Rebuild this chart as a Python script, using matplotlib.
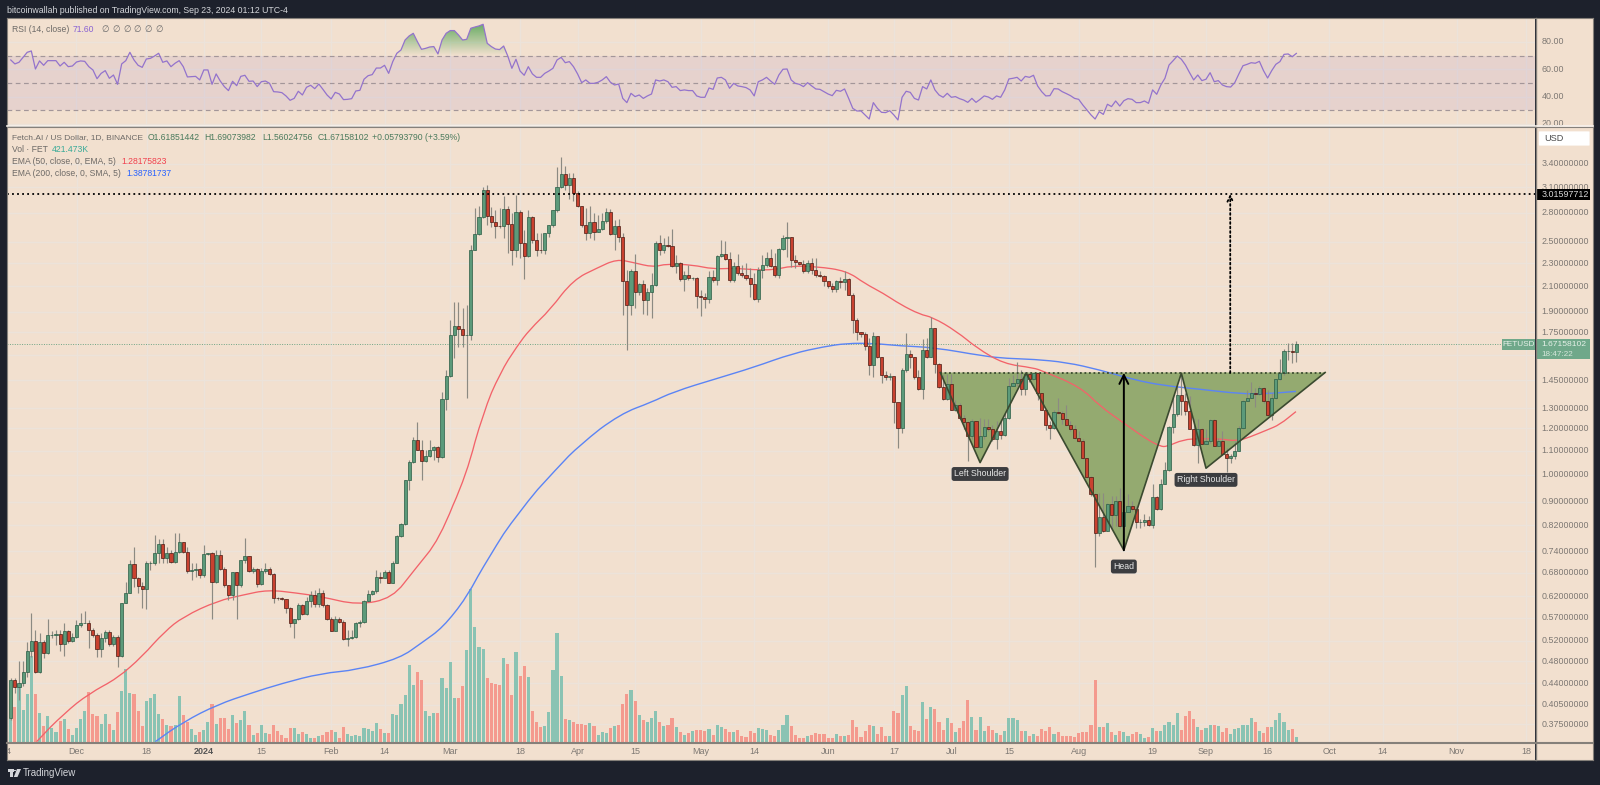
import matplotlib as mpl

mpl.use("Agg")
import matplotlib.pyplot as plt
import numpy as np
from matplotlib.colors import LinearSegmentedColormap
from matplotlib.patches import Circle, FancyBboxPatch, PathPatch, Polygon, Rectangle
from matplotlib.path import Path

plt.rcParams["font.family"] = ["Liberation Sans", "DejaVu Sans"]

# candles are daily, first one is day -16, day 0 = 1 Dec 2023
first_day = -16
first_open = 0.384
closes = [
    .446, .434, .440, .461, .499, .521, .461, .517, .496, .532, .533, .535, .513, .540, .521, .528,
    .553, .559, .559, .542, .533, .503, .526, .538, .513, .529,
    .491, .603, .628, .703, .667, .646, .638, .708, .708, .734,
    .763, .722, .734, .709, .739, .768, .739, .684, .688, .691,
    .673, .732, .734, .655, .729, .691, .648, .622, .682, .648,
    .715, .727, .685, .690, .650, .685, .690, .677, .617, .615,
    .613, .593, .558, .568, .599, .578, .609, .623, .601, .628,
    .599, .566, .540, .568, .561, .524, .526, .528, .559, .561,
    .608, .626, .632, .669, .667, .683, .654, .708, .787, .824,
    .980, 1.052, 1.145, 1.103, 1.056, 1.078, 1.103, 1.115, 1.074,
    1.349, 1.474, 1.731, 1.797, 1.771, 1.731, 1.736, 2.424, 2.579, 2.755, 3.07,
    2.765, 2.70, 2.665, 2.66, 2.84, 2.68, 2.42, 2.81, 2.49, 2.36,
    2.755, 2.52, 2.424, 2.42, 2.585, 2.67, 2.83, 3.10, 3.26, 3.13,
    3.21, 3.03, 2.88, 2.67, 2.585, 2.70, 2.60, 2.63, 2.71, 2.81,
    2.58, 2.665, 2.55, 2.14, 1.95, 2.227, 2.05, 2.12, 1.99, 2.05,
    2.11, 2.49, 2.42, 2.47, 2.456, 2.275, 2.30, 2.16, 2.19, 2.17,
    2.17, 2.02, 2.01, 2.00, 2.175, 2.155, 2.36, 2.38, 2.34, 2.155,
    2.27, 2.21, 2.19, 2.165, 2.12, 2.00, 2.24, 2.28, 2.35, 2.275,
    2.195, 2.43, 2.535, 2.545, 2.33, 2.305, 2.295, 2.232, 2.30, 2.235,
    2.19, 2.187, 2.14, 2.105, 2.08, 2.145, 2.135, 2.16, 2.03, 1.84,
    1.755, 1.74, 1.66, 1.54, 1.726, 1.59, 1.48, 1.47, 1.474, 1.33, 1.20,
    1.512, 1.61, 1.592, 1.47, 1.40, 1.635, 1.592, 1.778, 1.547, 1.41,
    1.348, 1.43, 1.29, 1.315, 1.25, 1.23, 1.166, 1.235, 1.117, 1.166,
    1.207, 1.195, 1.15, 1.186, 1.17, 1.25, 1.42, 1.434, 1.456, 1.40,
    1.489, 1.46, 1.49, 1.38, 1.29, 1.215, 1.20, 1.28, 1.275, 1.245,
    1.215, 1.195, 1.157, 1.14, 1.069, .992, .926, .795, .848, .803,
    .89, .853, .903, .818, .865, .884, .875, .829, .83, .838,
    .82, .915, .875, .963, 1.017, 1.207, 1.268, 1.366, 1.335, 1.287,
    1.195, 1.125, 1.195, 1.13, 1.14, 1.24, 1.12, 1.14, 1.084, 1.07,
    1.075, 1.10, 1.20, 1.336, 1.352, 1.38, 1.375, 1.408, 1.335, 1.264,
    1.352, 1.455, 1.493, 1.63, 1.63, 1.6185, 1.6716,
]
highs = [
    .449, .449, .480, .480, .518, .580, .543, .536, .522, .568, .540, .543, .543, .558, .543, .536,
    .565, .580, .584, .565, .547, .536, .536, .543, .543, .532,
    .532, .603, .657, .715, .753, .670, .657, .711, .711, .789,
    .778, .778, .753, .744, .796, .796, .768, .753, .706, .706,
    .692, .758, .734, .739, .744, .744, .697, .648, .683, .683,
    .715, .781, .727, .697, .692, .692, .706, .697, .679, .619,
    .619, .613, .595, .568, .603, .601, .619, .632, .636, .640,
    .636, .601, .572, .573, .572, .565, .543, .543, .561, .565,
    .611, .636, .636, .688, .683, .688, .688, .711, .789, .826,
    .980, 1.059, 1.162, 1.232, 1.145, 1.103, 1.145, 1.118, 1.118,
    1.386, 1.51, 1.838, 1.97, 1.97, 1.925, 1.95, 2.47, 2.853, 2.88, 3.107,
    3.127, 2.872, 2.835, 2.853, 2.996, 2.88, 2.798, 3.007, 2.835, 2.62,
    2.835, 2.768, 2.586, 2.586, 2.586, 2.672, 2.835, 3.35, 3.486, 3.37,
    3.275, 3.275, 3.05, 2.88, 2.853, 2.88, 2.798, 2.78, 2.798, 2.853,
    2.842, 2.725, 2.733, 2.586, 2.239, 2.25, 2.385, 2.124, 2.153, 2.083,
    2.21, 2.503, 2.57, 2.535, 2.56, 2.63, 2.375, 2.305, 2.225, 2.283,
    2.181, 2.181, 2.069, 2.042, 2.225, 2.239, 2.375, 2.519, 2.503, 2.406,
    2.313, 2.385, 2.283, 2.298, 2.254, 2.21, 2.268, 2.375, 2.406, 2.43,
    2.391, 2.438, 2.57, 2.707, 2.552, 2.375, 2.313, 2.329, 2.329, 2.344,
    2.344, 2.225, 2.195, 2.138, 2.124, 2.153, 2.181, 2.225, 2.167, 2.042,
    1.85, 1.755, 1.755, 1.71, 1.755, 1.722, 1.591, 1.506, 1.49, 1.471, 1.324,
    1.52, 1.745, 1.635, 1.592, 1.512, 1.705, 1.71, 1.858, 1.78, 1.551,
    1.48, 1.487, 1.487, 1.344, 1.326, 1.267, 1.235, 1.243, 1.235, 1.25,
    1.243, 1.243, 1.218, 1.235, 1.243, 1.275, 1.462, 1.48, 1.561, 1.508,
    1.50, 1.491, 1.495, 1.495, 1.373, 1.292, 1.235, 1.292, 1.351, 1.284,
    1.317, 1.235, 1.218, 1.187, 1.149, 1.069, .995, .932, .932, .932,
    .896, .92, .92, .95, .92, .926, .902, .885, .84, .856,
    .851, .963, .92, .982, 1.052, 1.21, 1.361, 1.425, 1.481, 1.379,
    1.361, 1.25, 1.243, 1.203, 1.195, 1.246, 1.246, 1.157, 1.187, 1.112,
    1.087, 1.141, 1.21, 1.344, 1.397, 1.443, 1.406, 1.415, 1.41, 1.393,
    1.379, 1.457, 1.576, 1.639, 1.678, 1.678, 1.691,
]
lows = [
    .381, .423, .412, .435, .452, .489, .458, .458, .486, .495, .527, .512, .499, .490, .515, .517,
    .527, .550, .559, .505, .529, .489, .489, .518, .509, .509,
    .470, .489, .603, .628, .644, .628, .591, .589, .688, .702,
    .706, .706, .706, .706, .706, .734, .734, .679, .661, .670,
    .665, .670, .729, .568, .653, .688, .644, .611, .611, .568,
    .644, .706, .683, .679, .644, .648, .679, .675, .603, .611,
    .611, .580, .550, .526, .565, .576, .576, .595, .595, .595,
    .595, .565, .540, .540, .558, .522, .509, .524, .527, .550,
    .559, .607, .624, .628, .653, .665, .653, .653, .706, .784,
    .820, .942, 1.046, 1.103, .980, 1.052, 1.074, 1.059, 1.052,
    1.07, 1.29, 1.471, 1.58, 1.65, 1.655, 1.35, 1.699, 2.416, 2.57, 2.743,
    2.672, 2.655, 2.535, 2.637, 2.535, 2.391, 2.283, 2.359, 2.344, 2.161,
    2.359, 2.487, 2.365, 2.391, 2.385, 2.552, 2.655, 2.816, 3.087, 3.067,
    2.957, 2.93, 2.872, 2.655, 2.519, 2.535, 2.519, 2.603, 2.62, 2.69,
    2.57, 2.416, 2.50, 1.875, 1.634, 1.875, 1.925, 2.029, 1.88, 1.875,
    1.85, 2.097, 2.375, 2.391, 2.448, 2.262, 2.21, 2.147, 2.064, 2.153,
    2.153, 1.925, 1.868, 1.925, 1.963, 2.138, 2.11, 2.359, 2.329, 2.138,
    2.138, 2.195, 2.181, 2.153, 2.016, 1.989, 1.976, 2.167, 2.268, 2.268,
    2.181, 2.167, 2.416, 2.359, 2.268, 2.254, 2.283, 2.21, 2.21, 2.204,
    2.181, 2.176, 2.097, 2.083, 2.05, 2.05, 2.083, 2.069, 2.029, 1.744,
    1.699, 1.722, 1.634, 1.48, 1.471, 1.58, 1.433, 1.452, 1.452, 1.224, 1.11,
    1.18, 1.50, 1.52, 1.46, 1.397, 1.347, 1.582, 1.588, 1.495, 1.405,
    1.344, 1.344, 1.288, 1.284, 1.243, 1.195, 1.055, 1.149, 1.115, 1.112,
    1.149, 1.187, 1.141, 1.105, 1.149, 1.164, 1.246, 1.415, 1.42, 1.366,
    1.37, 1.443, 1.453, 1.344, 1.288, 1.192, 1.152, 1.195, 1.272, 1.223,
    1.213, 1.187, 1.152, 1.137, 1.062, .988, .92, .696, .787, .799,
    .802, .807, .818, .812, .787, .862, .868, .812, .812, .818,
    .816, .81, .871, .871, .963, 1.015, 1.179, 1.262, 1.267, 1.267,
    1.195, 1.119, 1.049, 1.127, 1.127, 1.134, 1.119, 1.119, 1.079, 1.01,
    1.049, 1.062, 1.098, 1.198, 1.335, 1.352, 1.305, 1.37, 1.326, 1.259,
    1.24, 1.347, 1.453, 1.48, 1.572, 1.555, 1.56,
]
# volume pane has no scale, units are about 28k FET
volumes = [
    70, 105, 175, 95, 145, 257, 145, 87, 47, 77, 43, 30, 63, 70, 40, 20,
    43, 68, 93, 150, 85, 77, 53, 83, 53, 35,
    89, 152, 220, 147, 143, 93, 48, 122, 133, 145,
    85, 68, 50, 48, 50, 137, 82, 60, 40, 21,
    30, 35, 61, 115, 55, 73, 73, 40, 81, 58,
    65, 92, 50, 21, 28, 50, 28, 23, 50, 32,
    20, 13, 43, 43, 23, 31, 25, 13, 13, 18,
    20, 31, 35, 30, 13, 45, 25, 19, 22, 19,
    43, 40, 33, 57, 38, 27, 28, 83, 82, 115,
    142, 230, 170, 210, 187, 93, 77, 87, 88, 193,
    163, 239, 132, 132, 167, 275, 460, 345, 285, 280,
    192, 178, 174, 170, 252, 235, 142, 270, 198, 227,
    196, 93, 59, 45, 47, 89, 217, 328, 197, 70,
    65, 60, 53, 53, 50, 58, 47, 20, 30, 28,
    43, 48, 50, 115, 145, 157, 123, 80, 65, 59,
    73, 92, 61, 48, 50, 73, 44, 30, 20, 27,
    33, 36, 37, 33, 40, 21, 50, 46, 39, 30,
    30, 37, 17, 14, 33, 27, 42, 40, 35, 20,
    17, 37, 50, 80, 47, 20, 13,
    13, 19, 21, 28, 25, 25, 13, 13, 23, 19, 19, 21, 67, 44, 16, 34, 52, 47, 25, 44,
    17, 17, 92, 88, 140, 169, 48, 36, 34, 121, 69, 104, 98, 59, 36, 71, 57, 31, 41, 62,
    125, 75, 36, 75, 32, 48, 36, 27, 21, 32, 73, 73, 67, 34, 34, 18, 23, 19, 40, 34,
    44, 23, 29, 19, 19, 17, 15, 27, 29, 29, 52, 187, 46, 44, 56, 29, 21, 34, 31, 17,
    23, 29, 23, 11, 15, 42, 32, 32, 52, 60, 50, 86, 37, 79, 94, 69, 46, 36, 42, 50,
    50, 48, 29, 42, 23, 38, 42, 52, 50, 73, 59, 34, 27, 44, 44, 65, 88, 59, 36, 38, 15,
]
rsi_values = [
    66.8, 63.9, 65.1, 68.7, 72.4, 73.4, 60.2, 66.1, 62.9, 66.3, 66.3, 66.3, 62.4, 65.1, 61.9, 62.4,
    65.3, 66.1, 65.8, 61.9, 59.5, 53.1, 57.0, 59.0, 53.4, 55.8,
    49.0, 63.9, 66.3, 72.4, 66.8, 62.9, 61.4, 67.5, 68.0, 69.7,
    71.7, 65.1, 66.1, 61.9, 64.4, 66.3, 61.9, 54.4, 54.6, 54.8,
    52.2, 59.5, 59.5, 49.0, 56.6, 51.4, 47.3, 44.4, 51.2, 48.0,
    54.8, 55.6, 51.2, 51.4, 47.3, 50.9, 51.4, 49.7, 43.6, 43.4,
    42.9, 40.5, 37.3, 38.7, 43.9, 41.2, 46.8, 48.3, 45.8, 49.2,
    45.3, 41.2, 38.3, 43.1, 41.9, 37.8, 38.0, 38.5, 44.1, 44.6,
    52.7, 55.3, 56.1, 60.9, 60.9, 62.9, 57.0, 65.6, 71.7, 74.1,
    81.4, 84.4, 86.3, 80.2, 74.6, 75.3, 76.3, 76.6, 71.2, 81.4,
    86.3, 88.3, 88.3, 85.1, 81.4, 81.9, 90.0, 90.9, 91.7, 92.9,
    79.0, 76.6, 74.8, 74.4, 77.0, 69.7, 60.7, 67.3, 58.7, 55.6,
    61.9, 56.6, 54.1, 54.1, 57.0, 58.7, 60.7, 66.8,
    68.7, 64.8, 65.6, 61.9, 56.6, 50.2, 52.2, 49.7, 49.7, 50.5,
    52.2, 54.6, 50.5, 48.5, 49.2, 38.7, 35.6, 42.4, 40.0, 41.2,
    38.7, 40.5, 41.9, 52.2, 51.4, 52.2, 50.9, 46.8, 47.3, 44.4,
    44.9, 44.4, 44.4, 40.5, 39.5, 39.5, 46.3, 45.3, 53.6, 54.1,
    52.2, 46.1, 49.7, 47.8, 47.3, 46.6, 44.9, 40.5, 50.9, 52.2,
    54.1, 51.4, 49.0, 55.8, 60.0, 60.2, 52.2, 49.7, 49.0,
    47.3, 50.2, 47.8, 45.6, 45.3, 43.6, 41.9, 40.7, 44.6, 43.9,
    45.6, 38.7, 31.4, 29.5, 29.5, 26.6, 23.6, 35.6, 31.4, 28.5,
    28.3, 29.7, 26.6, 22.9, 39.5, 43.9, 43.1, 38.7, 37.5, 47.3,
    45.6, 52.2, 44.9, 41.2, 39.5, 42.4, 39.5, 40.0, 38.5, 37.5,
    35.8, 38.7, 35.8, 38.0, 40.5, 39.7, 38.0, 40.5, 39.5, 44.9,
    52.9, 53.4, 54.1, 51.4, 54.8, 54.1, 55.6, 47.8, 43.6, 40.5,
    40.7, 45.8, 45.6, 43.6, 42.2, 40.7, 38.7, 38.0, 33.9, 30.2,
    26.6, 23.6, 29.0, 27.0, 34.4, 32.7, 36.8, 33.1, 37.0, 38.5,
    38.0, 35.6, 35.6, 36.8, 35.1, 44.9, 41.7, 48.5, 53.4, 63.1,
    66.3, 69.7, 67.3, 63.1, 57.5, 52.2, 55.8, 51.7, 52.7, 57.5,
    50.9, 51.7, 48.5, 47.3, 47.0, 50.2, 56.6, 62.6, 63.6, 64.8,
    64.4, 65.8, 59.0, 53.6, 59.0, 63.6, 65.6, 70.9, 71.2, 69.2, 71.6,
]

ema50_days = [-9.7, -3, 3.1, 10, 16, 21.4, 26, 34.4, 40.5, 46.6, 53.6, 59.7, 68.3, 77, 82.3, 88.3,
              95, 99, 103.1, 107.2, 110.4, 115.3, 121, 126.7, 131.5, 135.6, 140.4, 143.7, 150,
              155, 160, 165, 170, 174, 180.2, 187.5, 192, 196.4, 200.5, 205.4, 208.3, 214.3,
              219.2, 225.7, 233, 235.4, 244.4, 249.2, 254.9, 260.6, 263.8, 265.4, 269.5, 273.5,
              278.4, 282.5, 285.7, 289.8, 293, 296.9]
ema50_vals = [.350, .391, .423, .449, .489, .539, .572, .609, .623, .636, .628, .619, .599, .615,
              .688, .773, 1.0, 1.273, 1.49, 1.655, 1.772, 1.912, 2.153, 2.254, 2.335, 2.304, 2.262,
              2.293, 2.283, 2.245, 2.254, 2.239, 2.239, 2.274, 2.268, 2.23, 2.12, 2.042, 1.955,
              1.878, 1.86, 1.757, 1.646, 1.547, 1.523, 1.502, 1.412, 1.309, 1.226, 1.149, 1.119,
              1.116, 1.149, 1.152, 1.152, 1.141, 1.16, 1.192, 1.218, 1.282]
ema200_days = [19.2, 26, 34.4, 42.3, 50, 59.7, 68.3, 78.8, 84, 89.2, 94.9, 100.5, 107.5, 117,
               122.6, 132.4, 140, 145.3, 155.9, 164.8, 174.5, 182, 187.5, 194, 200.5, 208.7,
               220.8, 226.5, 233, 241, 249.2, 257.4, 264.7, 273.5, 283.3, 289.8, 296.9]
ema200_vals = [.35, .378, .405, .423, .44, .458, .464, .486, .516, .548, .615, .725, .86, 1.026,
               1.125, 1.27, 1.33, 1.385, 1.46, 1.525, 1.612, 1.655, 1.677, 1.677, 1.66, 1.65,
               1.595, 1.58, 1.575, 1.556, 1.51, 1.453, 1.42, 1.40, 1.375, 1.375, 1.388]

pattern_days = [210.3, 220, 231.2, 255, 269, 275, 304]
pattern_prices = [1.495, 1.049, 1.491, .743, 1.491, 1.026, 1.495]
neckline = 1.493
target_price = 3.01597712
target_day = 280.9
last_close = 1.67158102

price_ticks = [3.4, 3.1, 2.8, 2.5, 2.3, 2.1, 1.9, 1.75, 1.6, 1.45, 1.3, 1.2, 1.1, 1.0, 0.9, 0.82,
               0.74, 0.68, 0.62, 0.57, 0.52, 0.48, 0.44, 0.405, 0.375]
rsi_ticks = [80, 60, 40, 20]
date_ticks = [-17, 0, 17, 31, 45, 62, 75, 91, 108, 122, 136, 152, 165, 183, 199, 213, 227, 244,
              262, 275, 290, 305, 318, 336, 353]
date_labels = ["14", "Dec", "18", "2024", "15", "Feb", "14", "Mar", "18", "Apr", "15", "May", "14",
               "Jun", "17", "Jul", "15", "Aug", "19", "Sep", "16", "Oct", "14", "Nov", "18"]

n = len(closes)
assert all(len(a) == n for a in [highs, lows, volumes, rsi_values]), (
    n, len(highs), len(lows), len(volumes), len(rsi_values))

days = first_day + np.arange(n)
closes = np.array(closes)
opens = np.r_[first_open, closes[:-1]]
highs = np.array(highs)
lows = np.array(lows)
volumes = np.array(volumes)
rsi_values = np.array(rsi_values)

BG = "#1d212c"
PANE = "#f2e0cf"
GRID = "#ece3da"
AXIS = "#85807a"
LABEL = "#7d7873"
TEXT = "#6d6a67"
GREEN = "#5c9a7a"
RED = "#c9412f"
PX_W, PX_H = 1600, 785
XLIM = (-16.92, 355.1)
PRICE_LIM = (0.3495, 3.927)
RSI_LIM = (18.5, 97.5)
VOL_TOP = 1845


def rect(x0, y0, x1, y1):
    return [x0 / PX_W, 1 - y1 / PX_H, (x1 - x0) / PX_W, (y1 - y0) / PX_H]


def put(x, y, s, color=TEXT, size=6.2, **kw):
    fig.text(x / PX_W, 1 - y / PX_H, s, color=color, fontsize=size, va="center", zorder=20, **kw)


def bare(ax):
    ax.set_xticks([])
    ax.set_yticks([])
    for s in ax.spines.values():
        s.set_visible(False)


def smooth_line(ax, xs, ys, color, lw, zorder):
    # quadratic segments through the read points, the moving averages have no corners
    xs, ys = np.array(xs), np.array(ys)
    mx, my = (xs[:-1] + xs[1:]) / 2, (ys[:-1] + ys[1:]) / 2
    verts = [(xs[0], ys[0]), (mx[0], my[0])]
    codes = [Path.MOVETO, Path.LINETO]
    for i in range(1, len(xs) - 1):
        verts += [(xs[i], ys[i]), (mx[i], my[i])]
        codes += [Path.CURVE3, Path.CURVE3]
    verts.append((xs[-1], ys[-1]))
    codes.append(Path.LINETO)
    ax.add_patch(PathPatch(Path(verts, codes), fc="none", ec=color, lw=lw, zorder=zorder))


fig = plt.figure(figsize=(PX_W / 100, PX_H / 100), dpi=100, facecolor=BG)

# rsi pane
ax_rsi = fig.add_axes(rect(7, 18, 1535, 126), facecolor=PANE)
ax_rsi.set_xlim(*XLIM)
ax_rsi.set_ylim(*RSI_LIM)
ax_rsi.set_xticks(date_ticks)
ax_rsi.set_yticks(rsi_ticks)
ax_rsi.tick_params(length=0, labelbottom=False, labelleft=False)
ax_rsi.grid(color=GRID, lw=1)
ax_rsi.set_axisbelow(True)
for s in ax_rsi.spines.values():
    s.set_visible(False)
ax_rsi.axhspan(30, 70, color="#7e57c2", alpha=0.1, lw=0)
for level in [70, 50, 30]:
    ax_rsi.axhline(level, color="#a39699", lw=0.85, dashes=(4, 3))
fill = ax_rsi.fill_between(days, 70, rsi_values, where=rsi_values >= 70, interpolate=True, color="none")
cmap = LinearSegmentedColormap.from_list("ob", [(0.42, 0.68, 0.40, 1), (0.42, 0.68, 0.40, 0)])
im = ax_rsi.imshow(np.linspace(0, 1, 64)[:, None], extent=[XLIM[0], XLIM[1], 70, 93], origin="upper",
                   aspect="auto", cmap=cmap, zorder=2)
im.set_clip_path(Path.make_compound_path(*fill.get_paths()), transform=ax_rsi.transData)
ax_rsi.set_xlim(*XLIM)
ax_rsi.set_ylim(*RSI_LIM)
ax_rsi.plot(days, rsi_values, color="#9373cc", lw=0.9, zorder=3)

# grid, volume and price sit on top of each other
main_pos = rect(7, 127, 1535, 742)
ax_grid = fig.add_axes(main_pos, facecolor=PANE)
ax_grid.set_xlim(*XLIM)
ax_grid.set_yscale("log")
ax_grid.set_ylim(*PRICE_LIM)
ax_grid.set_xticks(date_ticks)
ax_grid.set_yticks(price_ticks)
ax_grid.minorticks_off()
ax_grid.tick_params(length=0, labelbottom=False, labelleft=False)
ax_grid.grid(color=GRID, lw=1)
for s in ax_grid.spines.values():
    s.set_visible(False)

ax_vol = fig.add_axes(main_pos, facecolor="none")
bare(ax_vol)
ax_vol.set_xlim(*XLIM)
ax_vol.set_ylim(0, VOL_TOP)
up = closes >= opens
ax_vol.bar(days, volumes, width=0.76, color=np.where(up, "#8ac3b3", "#f49a8e"), lw=0)

ax = fig.add_axes(main_pos, facecolor="none")
ax.set_yscale("log")
bare(ax)
ax.minorticks_off()
ax.set_xlim(*XLIM)
ax.set_ylim(*PRICE_LIM)

ax.fill(pattern_days, pattern_prices, color="#94aa70", lw=0, zorder=1)
ax.axhline(last_close, color="#6fa585", lw=0.7, ls=(0, (1, 1.5)), zorder=1.5)
smooth_line(ax, ema200_days, ema200_vals, "#5b84f5", 1.0, 2)
smooth_line(ax, ema50_days, ema50_vals, "#f2636a", 0.95, 2)
ax.vlines(days, lows, highs, color="#8c8a82", lw=0.85, zorder=3)
body_lo = np.minimum(opens, closes)
body_hi = np.maximum(opens, closes)
ax.bar(days, body_hi - body_lo, bottom=body_lo, width=0.76, color=np.where(up, GREEN, RED),
       edgecolor=np.where(up, "#2a5c44", "#4a1a12"), lw=0.5, zorder=4)

ax.plot(pattern_days, pattern_prices, color="#3b4a30", lw=1.2, zorder=5)
ax.plot([pattern_days[0], pattern_days[-1]], [neckline, neckline], color="#3b4a30", lw=1.3,
        ls=(0, (1, 1.5)), zorder=5)
ax.annotate("", xy=(pattern_days[3], neckline), xytext=(pattern_days[3], pattern_prices[3]),
            arrowprops=dict(arrowstyle="->", color="black", lw=1.4, shrinkA=0, shrinkB=0, mutation_scale=16), zorder=6)
ax.annotate("", xy=(target_day, target_price), xytext=(target_day, neckline),
            arrowprops=dict(arrowstyle="->", color="black", lw=1.3, ls=(0, (1, 1.5)), shrinkA=0, shrinkB=0,
                            mutation_scale=10), zorder=6)
ax.axhline(target_price, color="black", lw=1.3, ls=(0, (1, 1.8)), zorder=6)

for day, price, s in [(220, 1.003, "Left Shoulder"), (275, 0.98, "Right Shoulder"), (255, 0.697, "Head")]:
    ax.text(day, price, s, color="#e8e8e8", fontsize=6.3, ha="center", va="center", zorder=7,
            bbox=dict(boxstyle="round,pad=0.28", fc="#3c3d40", ec="none"))

# date strip
ax_date = fig.add_axes(rect(7, 742, 1535, 760), facecolor=PANE)
bare(ax_date)
ax_date.set_xlim(*XLIM)
ax_date.set_ylim(0, 1)
for d, s in zip(date_ticks, date_labels):
    bold = s == "2024"
    ax_date.text(d, 0.5, s, ha="center", va="center", fontsize=6.5, color="#555" if bold else LABEL,
                 fontweight="bold" if bold else "normal", clip_on=False)

# price scale on the right
ax_side = fig.add_axes(rect(1536, 127, 1593, 742), facecolor=PANE)
ax_side.set_yscale("log")
bare(ax_side)
ax_side.minorticks_off()
ax_side.set_xlim(0, 1)
ax_side.set_ylim(*PRICE_LIM)
for p in price_ticks:
    # the 1.6 label sits under the last price tag
    if p == 1.6:
        continue
    ax_side.text(0.1, p, f"{p:.8f}", color=LABEL, fontsize=6.4, va="center", clip_on=True)
ytrans = ax_side.get_yaxis_transform()
ax_side.add_patch(Rectangle((0, target_price / 1.022), 0.947, target_price * 1.022 - target_price / 1.022,
                            transform=ytrans, color="black", lw=0, zorder=3))
ax_side.text(0.1, target_price, f"{target_price:.8f}", color="#d8d8d8", fontsize=6.4, va="center", zorder=4)
ax_side.add_patch(Rectangle((0, last_close / 1.061), 0.947, last_close * 1.02 - last_close / 1.061,
                            transform=ytrans, color="#6fa88a", lw=0, zorder=3))
ax_side.text(0.1, last_close / 1.003, f"{last_close:.8f}", color="#e6f0e8", fontsize=6.1, va="center", zorder=4)
ax_side.text(0.1, last_close / 1.04, "18:47:22", color="#d5e6da", fontsize=5.9, va="center", zorder=4)
ax_side.add_patch(FancyBboxPatch((0.05, 3.65), 0.89, 0.21, boxstyle="round,pad=0,rounding_size=0.02",
                                 mutation_aspect=0.25, color="white", lw=0, zorder=3))
ax_side.text(0.14, 3.75, "USD", color="#4a4a4a", fontsize=6.6, va="center", zorder=4)

# FETUSD tag left of the scale
ax.add_patch(Rectangle((347.1, last_close / 1.022), 8.0, last_close * 1.022 - last_close / 1.022,
                       color="#6fa88a", lw=0, zorder=8, clip_on=False))
ax.text(351.1, last_close, "FETUSD", color="#e6f0e8", fontsize=5.9, ha="center", va="center", zorder=9)

ax_side2 = fig.add_axes(rect(1536, 18, 1593, 127), facecolor=PANE)
bare(ax_side2)
ax_side2.set_xlim(0, 1)
ax_side2.set_ylim(RSI_LIM[0] - 0.7, RSI_LIM[1])
for v in rsi_ticks:
    ax_side2.text(0.1, v, f"{v:.2f}", color=LABEL, fontsize=6.4, va="center", clip_on=True)

ax_corner = fig.add_axes(rect(1536, 742, 1593, 760), facecolor=PANE)
bare(ax_corner)

# frame lines
for xs, ys, color, lw in [
    ((7, 1593), (18, 18), AXIS, 0.8),
    ((7, 1593), (760, 760), AXIS, 0.8),
    ((7, 7), (18, 760), AXIS, 0.8),
    ((1593, 1593), (18, 760), AXIS, 0.8),
    ((1535.5, 1535.5), (18, 760), AXIS, 1.0),
    ((7, 1593), (742.5, 742.5), AXIS, 1.5),
    ((7, 1593), (125.7, 125.7), "#f7f2ec", 1.2),
    ((7, 1593), (127, 127), AXIS, 0.8),
]:
    fig.add_artist(plt.Line2D([x / PX_W for x in xs], [1 - y / PX_H for y in ys], color=color, lw=lw, zorder=15))

# dark strip on the left cuts the first date label
fig.add_artist(Rectangle((0, 0), 6.5 / PX_W, 1, transform=fig.transFigure, color=BG, lw=0, zorder=14))

# header, legends and footer
put(7, 10.5, "bitcoinwallah published on TradingView.com, Sep 23, 2024 01:12 UTC-4", color="#d4d6da", size=6.3)
put(12.5, 29, "RSI (14, close)")
put(73, 29, "71.60", color="#8a63d2")
for x in [101, 112, 123, 133, 144, 155]:
    put(x, 29, "\u2205", color="#6a6a6a", size=6.2, family="DejaVu Sans")
put(12.5, 137.7, "Fetch.AI / US Dollar, 1D, BINANCE", size=6.0)
for x, s in [(148, "O1.61851442"), (204, "H1.69073982"), (262, "L1.56024756"), (317.5, "C1.67158102"),
             (372.5, "+0.05793790 (+3.59%)")]:
    put(x, 137.7, s, color="#4a7a5c")
put(12.5, 149.7, "Vol \u00b7 FET")
put(51.4, 149.7, "421.473K", color="#3aaa98")
put(12.5, 161.3, "EMA (50, close, 0, EMA, 5)")
put(121.4, 161.3, "1.28175823", color="#f0424f")
put(12.5, 173, "EMA (200, close, 0, SMA, 5)")
put(126.8, 173, "1.38781737", color="#2962ff")
put(23, 773, "TradingView", color="#d4d6da", size=7.0)

# small TV logo
for patch in [
    Rectangle((7.5 / PX_W, 1 - 772 / PX_H), 6 / PX_W, 3 / PX_H),
    Rectangle((10 / PX_W, 1 - 777 / PX_H), 2.6 / PX_W, 7 / PX_H),
    Polygon([(17 / PX_W, 1 - 769 / PX_H), (21 / PX_W, 1 - 769 / PX_H), (17.5 / PX_W, 1 - 777 / PX_H),
             (13.8 / PX_W, 1 - 777 / PX_H)]),
    Circle((15 / PX_W, 1 - 770.5 / PX_H), 1.2 / PX_W),
]:
    patch.set(color="#d4d6da", lw=0, transform=fig.transFigure, zorder=20)
    fig.add_artist(patch)

fig.savefig("out.png", dpi=100, facecolor=fig.get_facecolor())
plt.close(fig)
